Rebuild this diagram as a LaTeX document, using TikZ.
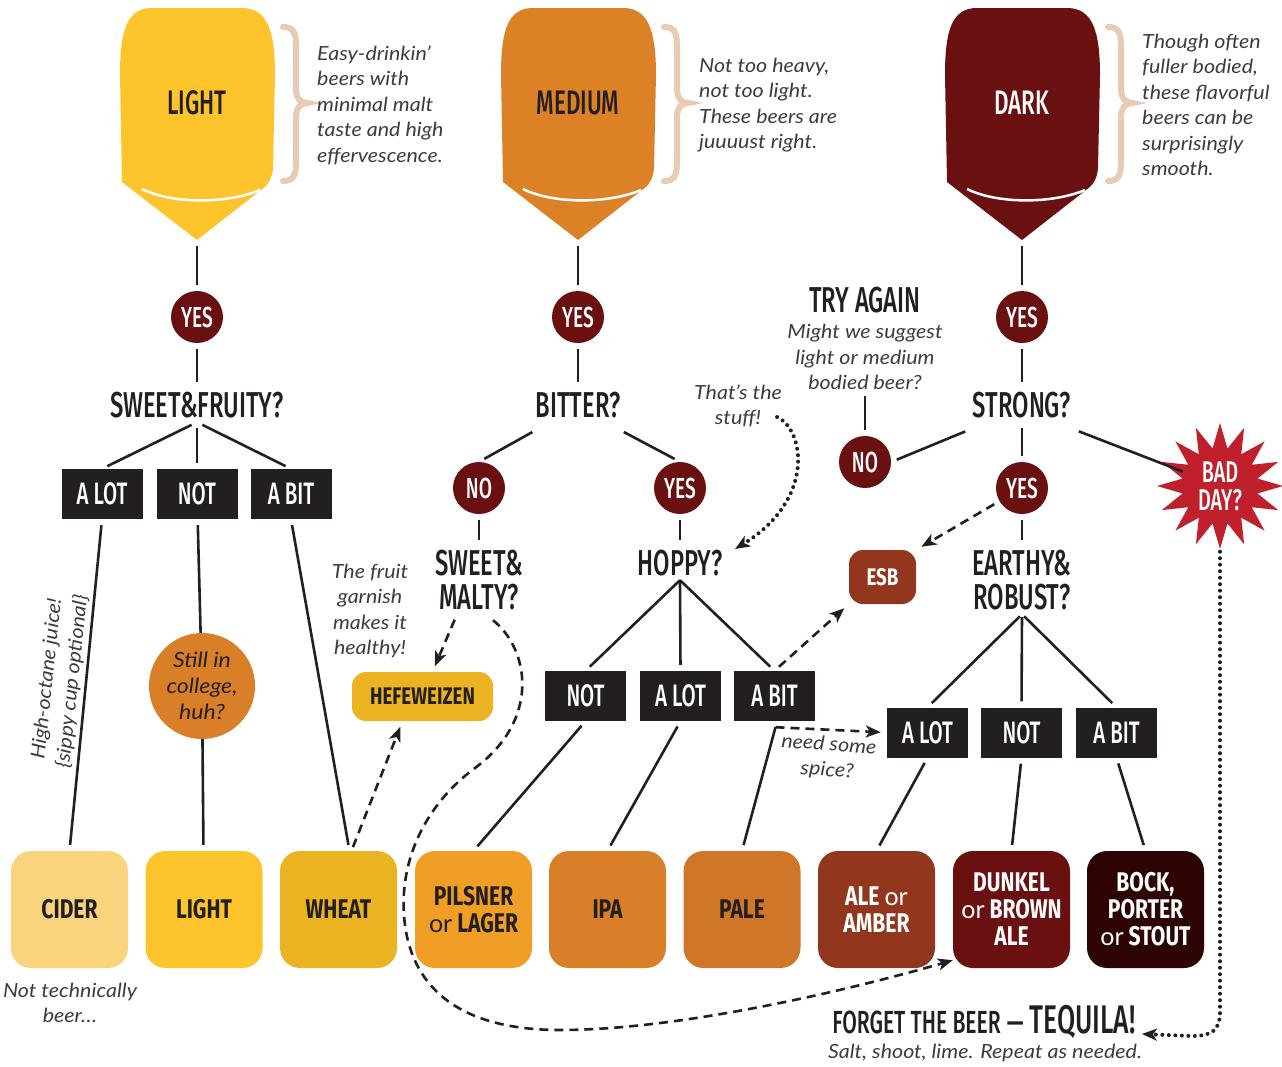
\documentclass[tikz,border=0pt]{standalone}
\usepackage{fontspec}
\usepackage{tikz}
\usetikzlibrary{positioning, shapes.geometric, arrows.meta}

\setmainfont{Lato}
\newfontfamily\headfont[FakeStretch=0.66]{Fira Sans Medium}
\newfontfamily\tilefont[FakeStretch=0.78]{Fira Sans}
\newfontfamily\notefont[FakeStretch=1.1]{Lato}

\definecolor{ink}{HTML}{231F20}
\definecolor{note}{HTML}{3C3C3C}
\definecolor{dred}{HTML}{6A1010}
\definecolor{kegL}{HTML}{FDC42B}
\definecolor{kegM}{HTML}{DC8126}
\definecolor{cider}{HTML}{FAD47C}
\definecolor{wheat}{HTML}{EBB322}
\definecolor{pils}{HTML}{F09E25}
\definecolor{ipa}{HTML}{D97F27}
\definecolor{pale}{HTML}{D07629}
\definecolor{ale}{HTML}{92361D}
\definecolor{bock}{HTML}{2E0303}
\definecolor{tan}{HTML}{E8CBB4}
\definecolor{badred}{HTML}{C0202B}

\newcommand{\orword}{{\rmfamily\mdseries\fontsize{25}{25}\selectfont or}}

\begin{document}
\begin{tikzpicture}[x=1pt, y=-1pt,
    link/.style={draw=ink, line width=2.6pt, shorten <=6pt, shorten >=6pt},
    dashlink/.style={link, dash pattern=on 9pt off 6pt, -{Stealth[length=15pt, width=12pt, inset=4pt]}},
    dotlink/.style={draw=ink, line width=4pt, line cap=round, dash pattern=on 0pt off 6.5pt, -{Stealth[length=15pt, width=12pt, inset=4pt]}},
    yesno/.style={circle, fill=dred, text=white, minimum size=52pt, inner sep=0pt, font=\headfont\fontsize{29}{29}\selectfont},
    question/.style={text=ink, align=center, inner sep=4pt, font=\headfont\fontsize{36}{34}\selectfont},
    answer/.style={fill=ink, text=white, minimum width=81pt, minimum height=50pt, inner sep=0pt, font=\headfont\fontsize{31}{31}\selectfont},
    tile/.style={rounded corners=20pt, minimum size=117pt, inner sep=0pt, align=center, text=ink, font=\tilefont\bfseries\fontsize{27}{27}\selectfont},
    note/.style={text=note, align=center, inner sep=0pt, font=\notefont\itshape\fontsize{19.5}{25.5}\selectfont},
    brace/.style={draw=tan, line width=6pt, line cap=round},
  ]
  \useasboundingbox (0,0) rectangle (1282,1066);

  % kegs and their braces
  \foreach \cx/\kc/\tc/\lab/\nm in {197/kegL/ink/LIGHT/kL, 578/kegM/ink/MEDIUM/kM, 1022/dred/white/DARK/kD} {
    \begin{scope}[shift={(\cx,0)}]
      \fill[\kc] (-75,182) -- (-77,75) .. controls (-77,30) and (-70,8) .. (-45,8) -- (45,8) .. controls (70,8) and (78,30) .. (78,75) -- (76,168) .. controls (75,180) and (70,186) .. (64,190) -- (0,240) -- cycle;
      \draw[white, line width=2.5pt] (-55,189) .. controls (-25,204) and (30,204) .. (63,190);
      \node[text=\tc, font=\headfont\fontsize{34}{34}\selectfont] (\nm) at (0,103) {\lab};
      \draw[brace] (86,27) .. controls (96,27) and (99,32) .. (99,45) -- (99,88) .. controls (99,98) and (103,103) .. (110,103) .. controls (103,103) and (99,108) .. (99,118) -- (99,163) .. controls (99,176) and (96,181) .. (86,181);
      \coordinate (tip\nm) at (0,240);
    \end{scope}
  }
  \node[note, anchor=west, align=left] (dLight) at (317,105) {Easy-drinkin’\\beers with\\minimal malt\\taste and high\\effervescence.};
  \node[note, anchor=west, align=left] (dMed) at (699,105) {Not too heavy,\\not too light.\\These beers are\\juuuust right.};
  \node[note, anchor=west, align=left] (dDark) at (1142,105) {Though often\\fuller bodied,\\these flavorful\\beers can be\\surprisingly\\smooth.};

  % light branch
  \node[yesno] (yesL) at (197,317) {YES};
  \node[question] (sweet) at (197,405) {SWEET\&FRUITY?};
  \node[answer] (lotL) at (102,494) {A LOT};
  \node[answer] (notL) at (197,494) {NOT};
  \node[answer] (bitL) at (291,494) {A BIT};
  \node[circle, fill=ipa, minimum size=106pt, inner sep=0pt, align=center, text=ink, font=\notefont\itshape\fontsize{21}{26}\selectfont] (college) at (202,686) {Still in\\college,\\huh?};
  \node[note, rotate=84] (juice) at (60,680) {High-octane juice!\\\{sippy cup optional\}};
  \node[note] (fruit) at (370,611) {The fruit\\garnish\\makes it\\healthy!};
  \node[rounded corners=14pt, fill=wheat, text=ink, minimum width=141pt, minimum height=49pt, inner sep=0pt, font=\tilefont\bfseries\fontsize{24}{24}\selectfont] (hefe) at (422.5,696.5) {HEFEWEIZEN};

  % medium branch
  \node[yesno] (yesM) at (578,317) {YES};
  \node[question] (bitter) at (578,405) {BITTER?};
  \node[yesno] (noM) at (479,488) {NO};
  \node[yesno] (yesH) at (680,488) {YES};
  \node[question] (malty) at (479,580) {SWEET\&\\MALTY?};
  \node[question] (hoppy) at (680,563) {HOPPY?};
  \node[answer] (notM) at (585.5,696) {NOT};
  \node[answer] (lotM) at (680.5,696) {A LOT};
  \node[answer] (bitM) at (774.5,696) {A BIT};
  \node[note] (stuff) at (738,406) {That’s the\\stuff!};
  \node[note, rotate=-4] (spice) at (828,758) {need some\\spice?};

  % dark branch
  \node[yesno] (yesD) at (1022,317) {YES};
  \node[question] (strong) at (1022,405) {STRONG?};
  \node[question] (try) at (865,300) {TRY AGAIN};
  \node[note] (trynote) at (865,357) {Might we suggest\\light or medium\\bodied beer?};
  \node[yesno] (noD) at (865,462) {NO};
  \node[yesno] (yesS) at (1022,488) {YES};
  \node[star, star points=16, star point ratio=1.65, minimum size=126pt, inner sep=0pt, fill=badred, text=white, align=center, font=\headfont\fontsize{30}{28}\selectfont] (bad) at (1220,486) {BAD\\DAY?};
  \node[rounded corners=14pt, fill=ale, text=white, minimum width=67pt, minimum height=54pt, inner sep=0pt, font=\tilefont\bfseries\fontsize{24}{24}\selectfont] (esb) at (882.5,577) {ESB};
  \node[question] (earthy) at (1022,580) {EARTHY\&\\ROBUST?};
  \node[answer] (lotR) at (927.5,732.5) {A LOT};
  \node[answer] (notR) at (1021.5,732.5) {NOT};
  \node[answer] (bitR) at (1116.5,732.5) {A BIT};

  % beer tiles
  \node[tile, fill=cider] (cider) at (69.5,909.5) {CIDER};
  \node[tile, fill=kegL] (light) at (204,909.5) {LIGHT};
  \node[tile, fill=wheat] (wheat) at (338.5,909.5) {WHEAT};
  \node[tile, fill=pils] (pils) at (473.5,909.5) {PILSNER\\\orword{} LAGER};
  \node[tile, fill=ipa] (ipa) at (607.5,909.5) {IPA};
  \node[tile, fill=pale] (pale) at (742,909.5) {PALE};
  \node[tile, fill=ale, text=white] (ale) at (876.5,909.5) {ALE \orword\\AMBER};
  \node[tile, fill=dred, text=white] (dunkel) at (1011.5,909.5) {DUNKEL\\\orword{} BROWN\\ALE};
  \node[tile, fill=bock, text=white] (bock) at (1145.5,909.5) {BOCK,\\PORTER\\\orword{} STOUT};
  \node[note] (notbeer) at (70,1003) {Not technically\\beer…};

  % tequila
  \node[text=ink, inner sep=0pt, font=\headfont] (forget) at (984,1022) {{\fontsize{32}{32}\selectfont FORGET THE BEER\hspace{6pt}—\hspace{6pt}}{\fontsize{40}{40}\selectfont TEQUILA!}};
  \node[note] (salt) at (985,1053) {Salt, shoot, lime. Repeat as needed.};

  % connectors, light
  \draw[link] (tipkL) -- (yesL);
  \draw[link] (yesL) -- (sweet);
  \foreach \a in {lotL, notL, bitL} \draw[link] (sweet.south) -- (\a.north);
  \draw[link] (lotL.south) -- (cider.north);
  \draw[link, shorten >=0pt] (notL) -- (college);
  \draw[link, shorten <=0pt] (college) -- (light);
  \draw[link] (bitL.south) -- ([xshift=11pt]wheat.north);
  \draw[dashlink, shorten <=4pt] ([xshift=13pt]wheat.north) -- ([xshift=-20pt]hefe.south);
  \draw[dashlink] ([xshift=-22pt]malty.south) -- ([xshift=10pt]hefe.north);

  % connectors, medium
  \draw[link] (tipkM) -- (yesM);
  \draw[link] (yesM) -- (bitter);
  \draw[link] ([shift={(6,7)}]bitter.south west) -- (noM.north);
  \draw[link] ([shift={(-6,7)}]bitter.south east) -- (yesH.north);
  \draw[link] (noM) -- (malty);
  \draw[link] (yesH) -- (hoppy);
  \foreach \a in {notM, lotM, bitM} \draw[link, shorten <=0pt] (hoppy.south) -- (\a.north);
  \draw[link] (notM.south) -- (pils.north);
  \draw[link] (lotM.south) -- (ipa.north);
  \draw[link, shorten >=0pt] (pale.north) -- ([shift={(1,6)}]bitM.south);
  \draw[dashlink, shorten <=0pt] ([shift={(1,6)}]bitM.south) -- (lotR.west);
  \draw[dashlink] (bitM.north) -- (esb.south west);
  \draw[dotlink] ([shift={(-5,11)}]stuff.east) .. controls (805,430) and (815,500) .. ([shift={(55,-14)}]hoppy.center);

  % connectors, dark
  \draw[link] (tipkD) -- (yesD);
  \draw[link] (yesD) -- (strong);
  \draw[link] ([shift={(2,7)}]strong.south west) -- (noD.east);
  \draw[link, shorten >=40pt] ([shift={(-2,7)}]strong.south east) -- (bad.center);
  \draw[link] (strong) -- (yesS);
  \draw[link] (trynote) -- (noD);
  \draw[link] (yesS) -- (earthy);
  \foreach \a in {lotR, notR, bitR} \draw[link, shorten <=3pt] (earthy.south) -- (\a.north);
  \draw[link] (lotR.south) -- (ale.north);
  \draw[link] (notR.south) -- (dunkel.north);
  \draw[link] (bitR.south) -- (bock.north);
  \draw[dashlink] (yesS) -- (esb.north east);

  % long detours
  \draw[dotlink, shorten <=2pt] (bad.south) -- (1220,1012) .. controls (1220,1030) and (1212,1036) .. (1192,1036) -- ([shift={(6,12)}]forget.east);
  \draw[dashlink, shorten <=0pt, shorten >=0pt] ([shift={(14,6)}]malty.south) .. controls (530,650) and (540,720) .. (475,768) .. controls (425,805) and (400,860) .. (404,915) .. controls (408,975) and (445,1030) .. (560,1030) .. controls (680,1030) and (850,990) .. ([shift={(0,-8)}]dunkel.south west);
\end{tikzpicture}
\end{document}
